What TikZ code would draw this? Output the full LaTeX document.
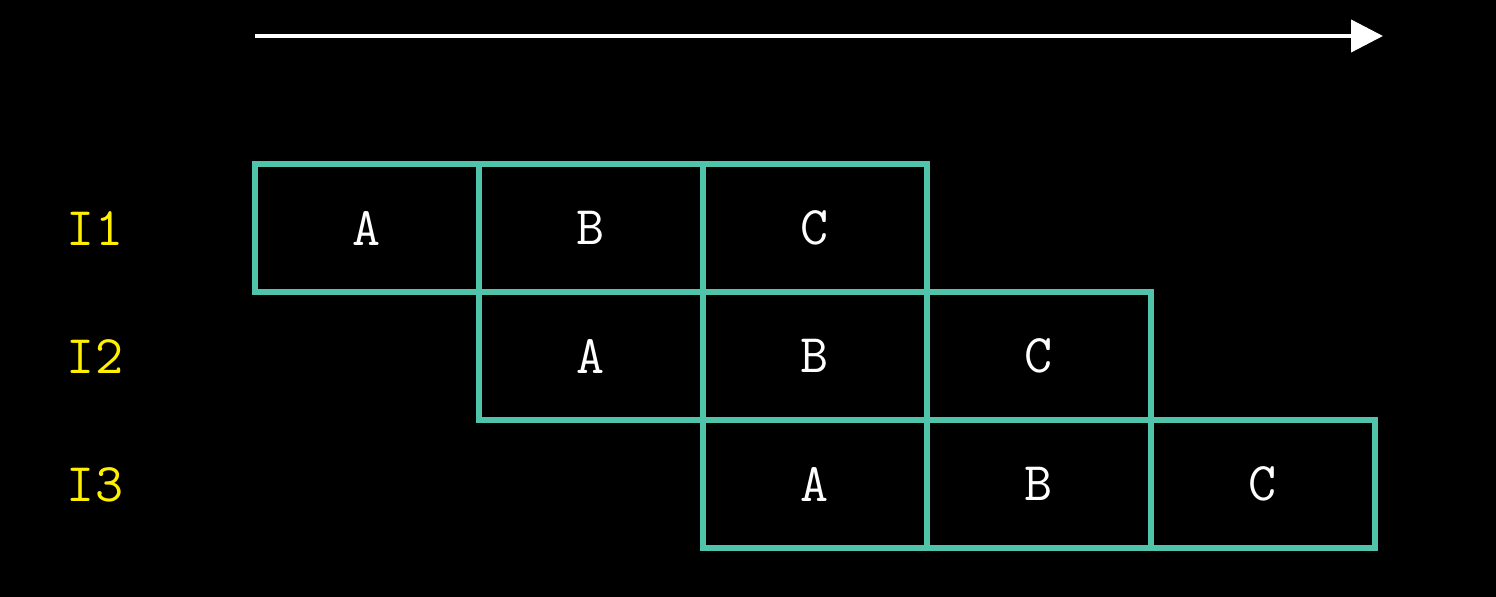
\documentclass[tikz,border=0pt]{standalone}
\usepackage{fontspec}
\usetikzlibrary{calc,arrows.meta}
\definecolor{stagecol}{RGB}{80,196,170}
\definecolor{instrcol}{RGB}{255,240,0}

\begin{document}
\begin{tikzpicture}[x=0.02cm,y=-0.02cm]
    \fill[black] (0,0) rectangle (1496,597);
    \coordinate (t0) at (255,36);
    \coordinate (t1) at (1383,36);
    \draw[white, line width=2.4pt, -{Triangle[length=0.64cm,width=0.64cm]}] (t0) -- (t1);
    \foreach \row in {0,1,2}{
      \pgfmathtruncatemacro{\num}{\row+1}
      \node[text=instrcol, font=\ttfamily\fontsize{31}{36}\selectfont] (i\num) at (95,229+128*\row) {I\num};
      \coordinate (s) at ($(367,228)+(224*\row,128*\row)$);
      \foreach \stage in {A,B,C}{
        \node[draw=stagecol, line width=3.3pt, minimum width=4.48cm, minimum height=2.56cm, inner sep=0pt, text=white, font=\ttfamily\fontsize{31}{36}\selectfont, rectangle] (\stage\num) at (s) {\stage};
        \coordinate (s) at ($(s) + (224,0)$);
      }
    }
  \end{tikzpicture}
\end{document}
